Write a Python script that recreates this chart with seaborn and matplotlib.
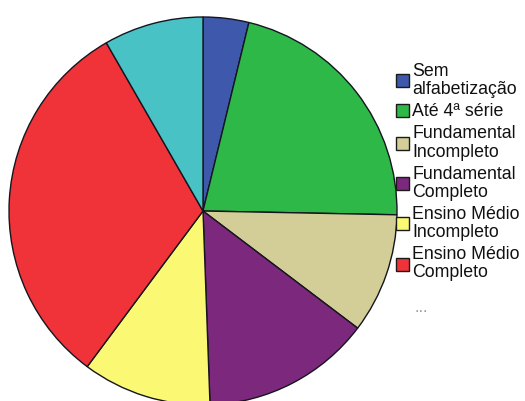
import matplotlib
matplotlib.use("Agg")
import matplotlib.pyplot as plt
from matplotlib.patches import Patch
import seaborn as sns

# Escolaridade - distribuição percentual
categorias = [
    "Sem\nalfabetização",
    "Até 4ª série",
    "Fundamental\nIncompleto",
    "Fundamental\nCompleto",
    "Ensino Médio\nIncompleto",
    "Ensino Médio\nCompleto",
    "Superior",
]
percentuais = [3.8, 21.5, 10.0, 14.1, 10.75, 31.5, 8.3]
cores = ["#3E58AC", "#2EB848", "#D3CE97", "#7C287D", "#FBF873", "#EF3338", "#48C2C5"]

sns.set_theme(style="white")
plt.rcParams["font.family"] = ["Liberation Sans", "DejaVu Sans"]
paleta = sns.color_palette(cores)

fig = plt.figure(figsize=(5.25, 4.01), dpi=100)
fig.patch.set_facecolor("white")

# Área da pizza (raio ~194 px, centro em ~(203, 211) px)
ax = fig.add_axes([9 / 525, -4 / 401, 388 / 525, 388 / 401])
wedges, _ = ax.pie(
    percentuais,
    colors=paleta,
    startangle=90,
    counterclock=False,
    radius=1.0,
    wedgeprops=dict(edgecolor="#15151f", linewidth=1.0),
)
for w in wedges:
    w.set_clip_on(False)
ax.set_xlim(-1, 1)
ax.set_ylim(-1, 1)
ax.axis("off")

# Legenda (apenas as seis primeiras categorias)
handles = [
    Patch(facecolor=paleta[i], edgecolor="#1a1a1a", linewidth=1.0)
    for i in range(6)
]
leg = fig.legend(
    handles,
    categorias[:6],
    loc="upper left",
    bbox_to_anchor=(396 / 525, 1 - 63 / 401),
    frameon=False,
    fontsize=12.8,
    handlelength=0.75,
    handleheight=0.75,
    handletextpad=0.15,
    labelspacing=0.28,
    borderpad=0,
    borderaxespad=0,
)
for t in leg.get_texts():
    t.set_linespacing(1.1)
    t.set_color("#111111")

fig.text(415 / 525, 1 - 307 / 401, "...", fontsize=12, color="#999999",
         ha="left", va="center")

fig.savefig("out.png", dpi=100, facecolor="white")
